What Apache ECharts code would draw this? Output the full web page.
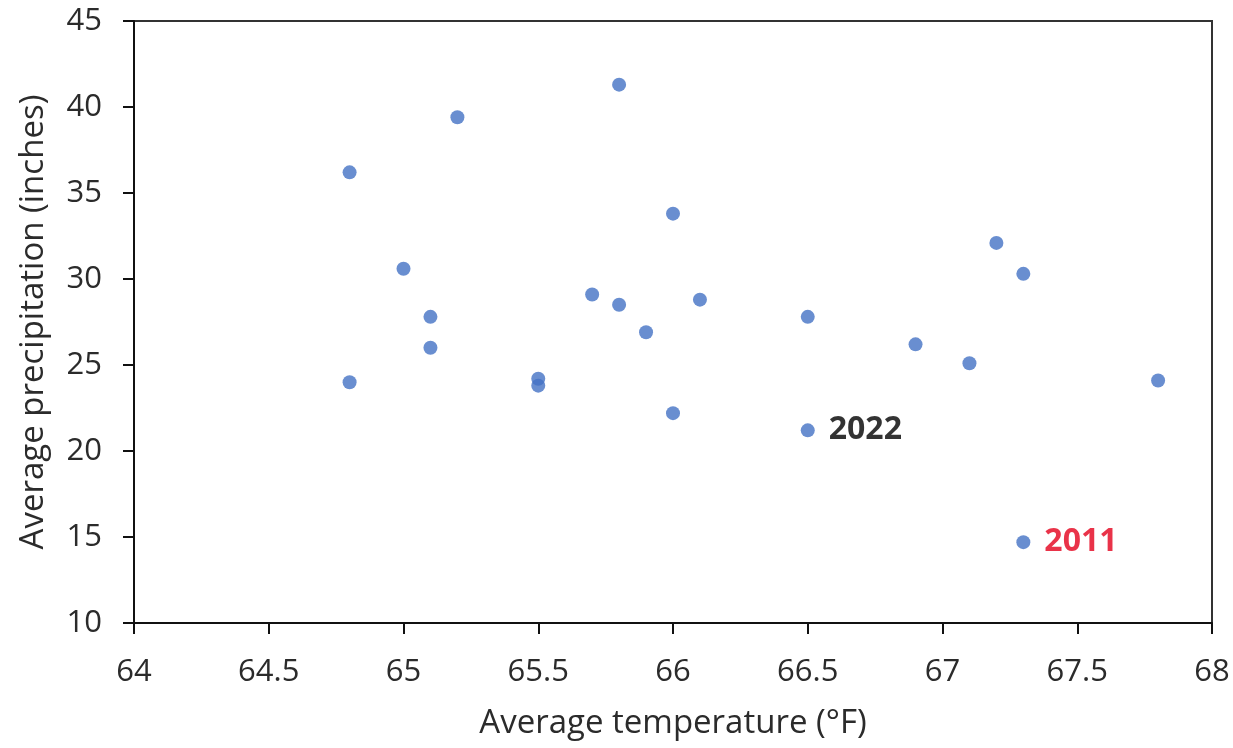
<!DOCTYPE html>
<html>
<head>
<meta charset="utf-8">
<script src="https://cdn.jsdelivr.net/npm/echarts@6/dist/echarts.min.js"></script>
<style>
html,body{margin:0;padding:0;background:#fff;}
#chart{width:1233px;height:748px;}
</style>
</head>
<body>
<div id="chart"></div>
<script>
// Data
const temperature = [64.8, 64.8, 65.0, 65.1, 65.1, 65.2, 65.5, 65.5, 65.7, 65.8, 65.8, 65.9, 66.0, 66.0, 66.1, 66.5, 66.5, 66.9, 67.1, 67.2, 67.3, 67.3, 67.8];
const precipitation = [36.2, 24.0, 30.6, 27.8, 26.0, 39.4, 24.2, 23.8, 29.1, 41.3, 28.5, 26.9, 33.8, 22.2, 28.8, 27.8, 21.2, 26.2, 25.1, 32.1, 30.3, 14.7, 24.1];
const pointLabels = ['', '', '', '', '', '', '', '', '', '', '', '', '', '', '', '', '2022', '', '', '', '', '2011', ''];
const labelColors = {'2022': '#000000', '2011': '#e3001b'};
const xTicks = [64, 64.5, 65, 65.5, 66, 66.5, 67, 67.5, 68];
const yTicks = [10, 15, 20, 25, 30, 35, 40, 45];

const font = '"Open Sans", Lato, sans-serif';
const data = temperature.map((t, i) => {
  const item = {value: [t, precipitation[i]]};
  if (pointLabels[i]) {
    item.label = {
      show: true, position: 'right', distance: 14,
      formatter: pointLabels[i], color: labelColors[pointLabels[i]],
      fontWeight: 'bold', fontSize: 32, fontFamily: font
    };
  }
  return item;
});

const chart = echarts.init(document.getElementById('chart'), null, {renderer: 'canvas'});
chart.setOption({
  animation: false,
  backgroundColor: '#ffffff',
  grid: {left: 134, right: 21, top: 21, bottom: 125, show: true, borderColor: '#333', borderWidth: 2, backgroundColor: 'transparent'},
  xAxis: {
    type: 'value', min: xTicks[0], max: xTicks[xTicks.length - 1], interval: 0.5,
    name: 'Average temperature (°F)', nameLocation: 'middle', nameGap: 84,
    nameTextStyle: {fontSize: 33, color: '#2b2b2b', fontFamily: font},
    axisLine: {show: true, onZero: false, lineStyle: {color: '#111', width: 2}},
    axisTick: {show: true, length: 11, lineStyle: {color: '#111', width: 2}},
    axisLabel: {fontSize: 31, color: '#2b2b2b', margin: 34, fontFamily: font},
    splitLine: {show: false}
  },
  yAxis: {
    type: 'value', min: yTicks[0], max: yTicks[yTicks.length - 1], interval: 5,
    name: 'Average precipitation (inches)', nameLocation: 'middle', nameGap: 84, nameRotate: 90,
    nameTextStyle: {fontSize: 33, color: '#2b2b2b', fontFamily: font},
    axisLine: {show: true, onZero: false, lineStyle: {color: '#111', width: 2}},
    axisTick: {show: true, length: 11, lineStyle: {color: '#111', width: 2}},
    axisLabel: {fontSize: 31, color: '#2b2b2b', margin: 32, fontFamily: font},
    splitLine: {show: false}
  },
  series: [{
    type: 'scatter',
    symbol: 'circle',
    symbolSize: 14,
    itemStyle: {color: '#4472c4'},
    data: data
  }]
});
</script>
</body>
</html>
